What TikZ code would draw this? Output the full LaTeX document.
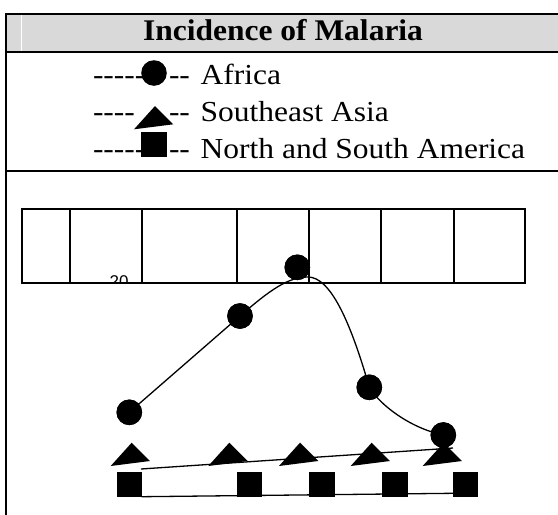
\documentclass[tikz,border=0pt]{standalone}
\usepackage{graphicx}
\usepackage{fontspec}
\setmainfont{Liberation Serif}
\newfontfamily\arialfont{Liberation Sans}
\newcommand\legtxt[1]{\scalebox{1.086}[1]{\fontsize{29}{32}\selectfont #1}}
\newcommand\ttltxt[1]{\scalebox{1.05}[1]{\fontsize{30}{33}\selectfont\bfseries #1}}
\begin{document}
\begin{tikzpicture}[x=1pt,y=-1pt,
  frameline/.style={line width=2pt},
  gridline/.style={line width=1.7pt},
  conn/.style={line width=1.3pt},
  dot/.style={circle, fill=black, inner sep=0pt, minimum size=25.6pt},
  sq/.style={rectangle, fill=black, inner sep=0pt, minimum width=25.6pt, minimum height=25pt},
  lbl/.style={inner sep=0pt, anchor=base west},
  tri/.pic={\fill (0,0) -- (-21,23.3) -- (18.3,18.3) -- cycle;}
]
\useasboundingbox (0,0) rectangle (558,515);
% title band
\fill[gray!30] (6,14) rectangle (558,52);
\draw[white, line width=0.7pt] (21,15) -- (21,51);
\node[anchor=base, inner sep=0pt] (title) at (283,40) {\ttltxt{Incidence of Malaria}};
% frame
\draw[frameline] (558,14) -- (6,14) -- (6,515);
\draw[frameline] (6,52) -- (558,52);
\draw[frameline] (6,171) -- (558,171);
% legend
\node[lbl] (d1a) at (92.8,84) {\legtxt{-{}-{}-{}-{}-}};
\node[lbl] (d1b) at (168.8,84) {\legtxt{-{}-}};
\node[lbl] (afr) at (200.5,84) {\legtxt{Africa}};
\node[lbl] (d2a) at (92.8,121) {\legtxt{-{}-{}-{}-}};
\node[lbl] (d2b) at (168.8,121) {\legtxt{-{}-}};
\node[lbl] (sea) at (200.5,121) {\legtxt{Southeast Asia}};
\node[lbl] (d3a) at (92.8,158) {\legtxt{-{}-{}-{}-{}-}};
\node[lbl] (d3b) at (168.8,158) {\legtxt{-{}-}};
\node[lbl] (nsa) at (200.5,158) {\legtxt{North and South America}};
\node[dot] (lc) at (154,73) {};
\pic at (155,106) {tri};
\node[sq] (ls) at (154,144.5) {};
% axis label partly hidden
\begin{scope}
  \clip (100,260) rectangle (140,282);
  \node[anchor=north west, inner sep=0pt, font=\arialfont\fontsize{17}{17}\selectfont] (twenty) at (109.5,275) {20};
\end{scope}
% grid row
\draw[gridline] (21.7,209) rectangle (525,283);
\foreach \gx in {70,142.3,236.7,309,381,453.7}
  \draw[gridline] (\gx,209) -- (\gx,283);
% data coordinates
\coordinate (t0) at (141,469);
\coordinate (t9) at (453,448);
\coordinate (s0) at (141.7,496.7);
\coordinate (s9) at (453,493.3);
\node[dot] (c1) at (129.3,412.3) {};
\node[dot] (c2) at (240,316) {};
\node[dot] (c3) at (297.3,267.3) {};
\node[dot] (c4) at (369.3,387.3) {};
\node[dot] (c5) at (443.3,435) {};
% connectors
\draw[conn] (c1.center) -- (c2.center) .. controls (270,290) and (288,277) .. (308,277)
  .. controls (330,277) and (350,320) .. (c4.center)
  .. controls (380,405) and (410,428) .. (c5.center);
\draw[conn] (t0) -- (t9);
\draw[conn] (s0) -- (s9);
% markers on top
\node[sq] (q1) at (129.5,484.2) {};
\node[sq] (q2) at (249.5,484.2) {};
\node[sq] (q3) at (321.8,484.2) {};
\node[sq] (q4) at (395.2,484.2) {};
\node[sq] (q5) at (465.5,484.2) {};
\pic at (131.7,442.7) {tri};
\pic at (229.3,442.7) {tri};
\pic at (300,442.7) {tri};
\pic at (371.7,442.7) {tri};
\pic at (443.7,442.7) {tri};
\node[dot] at (c1) {};
\node[dot] at (c2) {};
\node[dot] at (c3) {};
\node[dot] at (c4) {};
\node[dot] at (c5) {};
\end{tikzpicture}
\end{document}
